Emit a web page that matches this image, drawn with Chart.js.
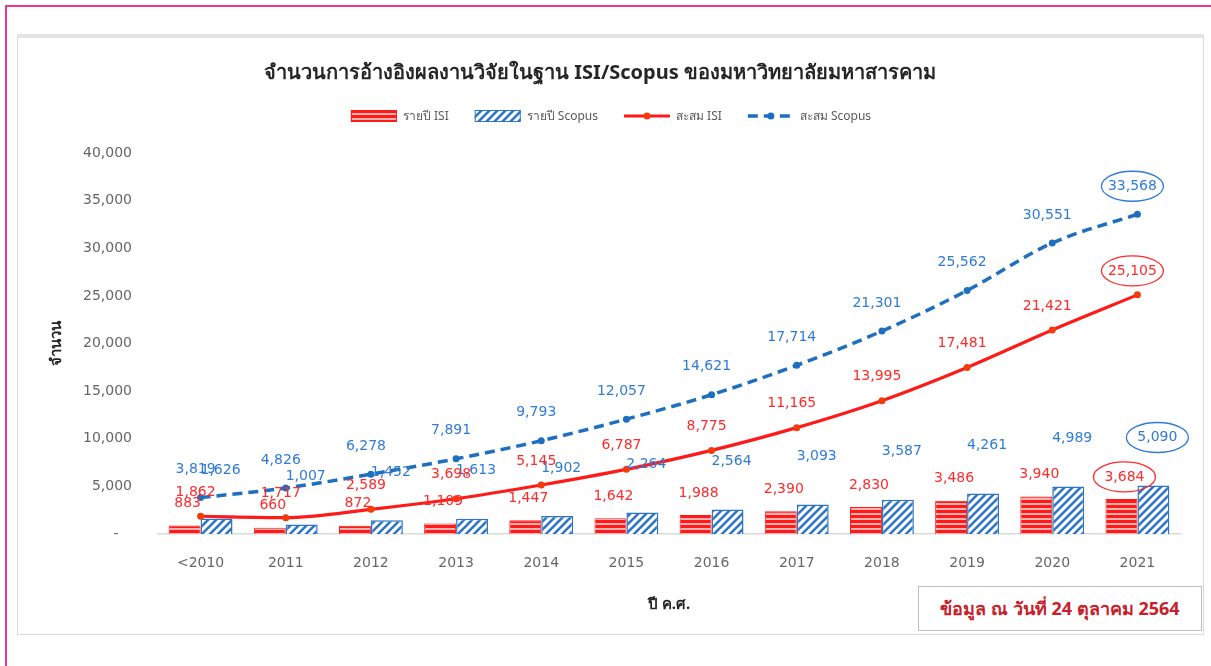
<!DOCTYPE html>
<html>
<head>
<meta charset="utf-8">
<script src="https://cdn.jsdelivr.net/npm/chart.js@4/dist/chart.umd.min.js"></script>
<style>
  body { margin: 0; background: #fff; width: 1211px; height: 666px; position: relative; overflow: hidden; }
  #frame { position: absolute; left: 5px; top: 5px; width: 1220px; height: 700px; border-left: 2px solid #f0358c; border-top: 2px solid #f0358c; }
  #card { position: absolute; left: 17px; top: 34px; width: 1185px; height: 596px; border: 1px solid #d9d9d9; border-top: 4px solid #e4e4e4; background: #fff; }
  #wrap { position: absolute; left: 0; top: 0; width: 1211px; height: 666px; }
  #note { position: absolute; left: 918px; top: 586px; width: 282px; height: 43px; border: 1px solid #bfbfbf; background: #fff;
          color: #c8202a; font: bold 18px Tahoma, "Noto Sans", "DejaVu Sans", sans-serif; line-height: 43px; text-align: center; }
</style>
</head>
<body>
<div id="frame"></div>
<div id="card"></div>
<div id="wrap"><canvas id="citeChart" width="1211" height="666"></canvas></div>
<div id="note">ข้อมูล ณ วันที่ 24 ตุลาคม 2564</div>
<script>
const years = ["<2010", "2011", "2012", "2013", "2014", "2015", "2016", "2017", "2018", "2019", "2020", "2021"];
const isiYearly = [883, 660, 872, 1109, 1447, 1642, 1988, 2390, 2830, 3486, 3940, 3684];
const scopusYearly = [1626, 1007, 1452, 1613, 1902, 2264, 2564, 3093, 3587, 4261, 4989, 5090];
const isiTotal = [1862, 1717, 2589, 3698, 5145, 6787, 8775, 11165, 13995, 17481, 21421, 25105];
const scopusTotal = [3819, 4826, 6278, 7891, 9793, 12057, 14621, 17714, 21301, 25562, 30551, 33568];
const yTicks = [0, 5000, 10000, 15000, 20000, 25000, 30000, 35000, 40000];

const RED = "#ff1a1a";
const BLUE = "#1f6fc0";
const NUM_FONT = '"DejaVu Sans", Tahoma, sans-serif';
const THAI_FONT = 'Tahoma, "Noto Sans", "DejaVu Sans", sans-serif';

// red bars with light horizontal stripes
function stripePattern() {
  const c = document.createElement("canvas");
  c.width = 10; c.height = 5;
  const g = c.getContext("2d");
  g.fillStyle = RED;
  g.fillRect(0, 0, 10, 5);
  g.fillStyle = "#ffb3b3";
  g.fillRect(0, 3, 10, 2);
  return g.createPattern(c, "repeat");
}

// blue diagonal hatch on white
function hatchPattern() {
  const c = document.createElement("canvas");
  c.width = 8; c.height = 8;
  const g = c.getContext("2d");
  g.fillStyle = "#fff";
  g.fillRect(0, 0, 8, 8);
  g.strokeStyle = "#2e75c8";
  g.lineWidth = 2.6;
  g.beginPath();
  g.moveTo(-2, 10); g.lineTo(10, -2);
  g.moveTo(-2, 2); g.lineTo(2, -2);
  g.moveTo(6, 10); g.lineTo(10, 6);
  g.stroke();
  return g.createPattern(c, "repeat");
}

const valueLabels = {
  id: "valueLabels",
  afterDatasetsDraw(chart) {
    const ctx = chart.ctx;
    ctx.save();
    ctx.font = "14px " + NUM_FONT;
    ctx.textAlign = "center";
    ctx.textBaseline = "middle";
    chart.data.datasets.forEach((ds, i) => {
      const meta = chart.getDatasetMeta(i);
      meta.data.forEach((el, j) => {
        const x = el.x + ds.labelShift;
        const y = el.y - ds.labelLift;
        ctx.fillStyle = ds.labelColor;
        ctx.fillText(ds.data[j].toLocaleString("en-US"), x, y);
        if (j === ds.data.length - 1) {
          ctx.strokeStyle = ds.labelColor;
          ctx.lineWidth = 1.3;
          ctx.beginPath();
          ctx.ellipse(x, y, 31, 15, 0, 0, Math.PI * 2);
          ctx.stroke();
        }
      });
    });
    ctx.restore();
  },
};

const customLegend = {
  id: "customLegend",
  afterDraw(chart) {
    const ctx = chart.ctx;
    const y = 116;
    const symW = 46, gap = 6, itemGap = 26;
    ctx.save();
    ctx.font = "12px " + THAI_FONT;
    ctx.textBaseline = "middle";
    const items = chart.data.datasets.map((ds) => ({ ds, w: symW + gap + ctx.measureText(ds.label).width }));
    const total = items.reduce((s, it) => s + it.w, 0) + itemGap * (items.length - 1);
    let x = 611 - total / 2;
    items.forEach(({ ds }) => {
      if (ds.type === "bar") {
        ctx.fillStyle = ds.backgroundColor;
        ctx.fillRect(x, y - 6, symW, 12);
        ctx.strokeStyle = ds.borderColor;
        ctx.lineWidth = 1;
        ctx.strokeRect(x + 0.5, y - 5.5, symW - 1, 11);
      } else {
        ctx.strokeStyle = ds.borderColor;
        ctx.lineWidth = ds.borderWidth;
        ctx.setLineDash(ds.borderDash || []);
        ctx.beginPath();
        ctx.moveTo(x, y); ctx.lineTo(x + symW, y);
        ctx.stroke();
        ctx.setLineDash([]);
        ctx.fillStyle = ds.pointBackgroundColor;
        ctx.beginPath();
        ctx.arc(x + symW / 2, y, 3.5, 0, Math.PI * 2);
        ctx.fill();
      }
      x += symW + gap;
      ctx.fillStyle = "#595959";
      ctx.textAlign = "left";
      ctx.fillText(ds.label, x, y + 1);
      x += ctx.measureText(ds.label).width + itemGap;
    });
    ctx.restore();
  },
};

function renderChart() {
  const ctx = document.getElementById("citeChart").getContext("2d");
  new Chart(ctx, {
    data: {
      labels: years,
      datasets: [
        {
          type: "bar",
          label: "รายปี ISI",
          data: isiYearly,
          backgroundColor: stripePattern(),
          borderColor: RED,
          borderWidth: 1,
          categoryPercentage: 0.75,
          barPercentage: 1,
          order: 2,
          labelLift: 22,
          labelShift: 3,
          labelColor: "#ff2a2a",
        },
        {
          type: "bar",
          label: "รายปี Scopus",
          data: scopusYearly,
          backgroundColor: hatchPattern(),
          borderColor: "#2e75c8",
          borderWidth: 1.5,
          categoryPercentage: 0.75,
          barPercentage: 1,
          order: 2,
          labelLift: 48,
          labelShift: 4,
          labelColor: "#2f7bd8",
        },
        {
          type: "line",
          label: "สะสม ISI",
          data: isiTotal,
          borderColor: RED,
          borderWidth: 3.2,
          pointRadius: 3.5,
          pointBorderWidth: 0,
          pointBackgroundColor: "#f23c0c",
          cubicInterpolationMode: "monotone",
          order: 0,
          labelLift: 24,
          labelShift: -5,
          labelColor: "#ff2a2a",
        },
        {
          type: "line",
          label: "สะสม Scopus",
          data: scopusTotal,
          borderColor: BLUE,
          borderWidth: 3.5,
          borderDash: [10, 6],
          pointRadius: 3.5,
          pointBorderWidth: 0,
          pointBackgroundColor: BLUE,
          cubicInterpolationMode: "monotone",
          order: 1,
          labelLift: 28,
          labelShift: -5,
          labelColor: "#2f7bd8",
        },
      ],
    },
    options: {
      responsive: false,
      animation: false,
      layout: { padding: { left: 20, right: 31, top: 61, bottom: 52 } },
      plugins: {
        legend: { display: false },
        tooltip: { enabled: false },
        title: {
          display: true,
          text: "จำนวนการอ้างอิงผลงานวิจัยในฐาน ISI/Scopus ของมหาวิทยาลัยมหาสารคาม",
          color: "#262626",
          font: { family: THAI_FONT, size: 20, weight: "bold", lineHeight: 1.2 },
          padding: { top: 0, bottom: 68 },
        },
      },
      scales: {
        x: {
          grid: { display: false, drawTicks: false },
          border: { display: true, color: "#d9d9d9", width: 1.5 },
          ticks: { color: "#666666", font: { family: NUM_FONT, size: 14 }, padding: 21, maxRotation: 0 },
          title: {
            display: true,
            text: "ปี ค.ศ.",
            color: "#262626",
            font: { family: THAI_FONT, size: 15, weight: "bold", lineHeight: 1.2 },
            padding: { top: 8, bottom: 0 },
          },
          afterFit: (s) => { s.height = 80; },
        },
        y: {
          min: 0,
          max: 40000,
          afterBuildTicks: (s) => { s.ticks = yTicks.map((v) => ({ value: v })); },
          grid: { display: false, drawTicks: false },
          border: { display: false },
          ticks: {
            color: "#666666",
            font: { family: NUM_FONT, size: 14 },
            padding: 26,
            callback: (v) => (v === 0 ? "-   " : v.toLocaleString("en-US")),
          },
          title: {
            display: true,
            text: "จำนวน",
            color: "#262626",
            font: { family: THAI_FONT, size: 15, weight: "bold", lineHeight: 1.2 },
            padding: { top: 28, bottom: 0 },
          },
          afterFit: (s) => { s.width = 138; },
        },
      },
    },
    plugins: [valueLabels, customLegend],
  });
}

renderChart();
</script>
</body>
</html>
